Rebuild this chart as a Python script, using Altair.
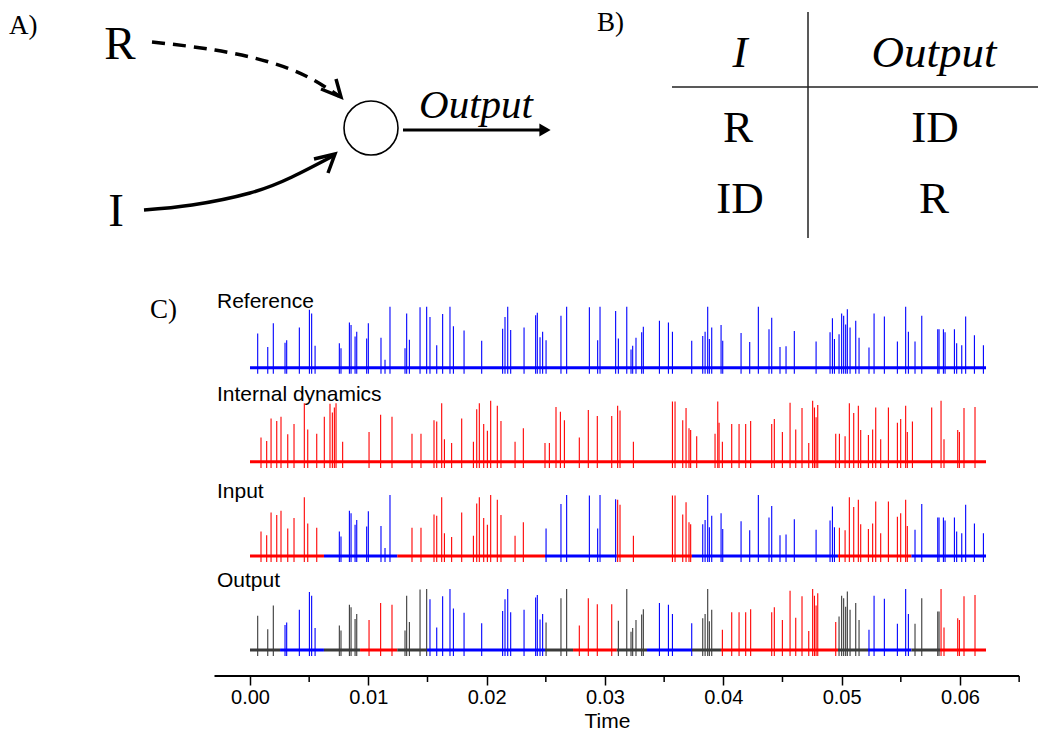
import altair as alt
import pandas as pd

# ---------------- values ----------------
# Reference trace: spike times (ms) and relative spike heights (1 = tallest)
REF_SPIKE_MS = [
    0.65, 1.50, 1.97, 2.96, 3.10, 4.17, 5.02, 5.21, 5.50, 7.55,
    7.69, 8.40, 8.54, 8.88, 9.02, 9.86, 10.00, 11.07, 11.41, 11.83,
    13.10, 13.24, 13.47, 14.37, 14.93, 15.21, 15.78, 16.28, 16.90, 17.19,
    18.09, 19.58, 21.35, 21.55, 21.78, 22.03, 23.16, 24.14, 24.28, 24.51,
    24.73, 25.02, 26.28, 26.76, 28.68, 29.38, 29.58, 30.90, 31.13, 31.84,
    32.20, 32.34, 32.62, 33.10, 33.24, 34.60, 35.36, 35.70, 37.33, 38.26,
    38.46, 38.68, 38.82, 39.02, 39.81, 39.95, 41.50, 42.23, 42.96, 43.86,
    44.09, 44.79, 45.30, 46.00, 47.84, 49.02, 49.22, 49.39, 49.78, 50.00,
    50.17, 50.34, 50.48, 50.71, 51.19, 51.47, 52.31, 52.74, 53.61, 54.71,
    55.41, 55.64, 56.20, 56.77, 58.12, 58.23, 58.60, 58.74, 59.53, 59.72,
    60.15, 60.48, 61.22, 61.98,
]
REF_SPIKE_AMP = [
    0.56, 0.34, 0.73, 0.41, 0.45, 0.66, 0.95, 0.89, 0.36, 0.40,
    0.32, 0.74, 0.70, 0.51, 0.59, 0.48, 0.73, 0.49, 0.13, 1.00,
    0.32, 0.89, 0.46, 0.99, 1.00, 0.83, 0.37, 0.88, 1.00, 0.68,
    0.61, 0.44, 0.64, 0.83, 1.00, 0.62, 0.66, 0.86, 0.90, 0.50,
    0.59, 0.45, 0.85, 1.00, 0.99, 0.45, 1.00, 0.93, 0.48, 1.00,
    0.30, 0.36, 0.49, 0.58, 0.67, 0.77, 0.74, 0.59, 0.44, 0.52,
    0.59, 1.00, 0.47, 0.66, 0.70, 0.44, 0.57, 0.42, 1.00, 0.63,
    0.82, 0.34, 0.35, 0.60, 0.43, 0.58, 0.81, 0.47, 0.55, 0.89,
    0.85, 0.71, 0.96, 0.66, 0.77, 0.49, 0.33, 0.89, 0.84, 0.43,
    1.00, 0.59, 0.43, 0.85, 0.63, 0.63, 0.63, 0.58, 0.63, 0.40,
    0.37, 0.84, 0.53, 0.37,
]
# Internal dynamics trace
ID_SPIKE_MS = [
    0.93, 1.41, 1.78, 2.26, 2.62, 3.19, 3.72, 4.59, 4.88, 5.64,
    6.28, 6.76, 6.96, 7.13, 7.27, 7.83, 10.06, 11.04, 12.00, 13.69,
    14.45, 15.55, 15.78, 16.20, 16.43, 17.04, 17.89, 18.88, 19.16, 19.38,
    19.75, 20.06, 20.34, 20.90, 21.21, 22.40, 23.10, 24.93, 25.30, 25.86,
    26.23, 26.57, 27.83, 28.59, 29.35, 30.57, 31.07, 31.27, 32.40, 35.70,
    35.92, 36.57, 36.85, 37.10, 37.24, 37.75, 39.30, 39.53, 39.64, 39.92,
    40.71, 41.33, 41.89, 42.31, 44.09, 44.31, 44.99, 45.64, 46.12, 46.65,
    47.22, 47.55, 47.70, 47.84, 47.98, 49.50, 49.81, 50.29, 50.65, 51.02,
    51.41, 51.61, 52.26, 52.62, 52.88, 53.30, 53.95, 54.71, 54.99, 55.41,
    55.55, 55.98, 57.61, 58.40, 58.65, 59.81, 59.95, 60.34, 61.27,
]
ID_SPIKE_AMP = [
    0.40, 0.34, 0.71, 0.67, 0.74, 0.45, 0.62, 0.96, 0.53, 0.46,
    0.74, 0.95, 0.81, 0.89, 0.96, 0.33, 0.49, 0.77, 0.74, 0.46,
    0.46, 0.68, 0.66, 0.96, 0.37, 0.31, 0.71, 0.33, 0.86, 0.96,
    0.62, 0.51, 1.00, 0.92, 0.67, 0.33, 0.55, 0.31, 0.31, 0.90,
    0.82, 0.68, 0.40, 0.85, 0.75, 0.75, 0.92, 0.84, 0.33, 0.99,
    0.99, 0.68, 0.88, 0.55, 0.52, 0.42, 0.46, 0.99, 0.64, 0.33,
    0.62, 0.62, 0.62, 0.67, 0.62, 0.70, 0.49, 0.97, 0.53, 0.88,
    0.31, 1.00, 0.89, 0.73, 0.93, 0.46, 0.46, 0.42, 0.96, 0.80,
    0.92, 0.52, 0.44, 0.53, 0.89, 0.37, 0.89, 0.64, 0.70, 0.92,
    0.49, 0.66, 0.89, 1.00, 0.37, 0.52, 0.49, 0.88, 0.90,
]
assert len(REF_SPIKE_MS) == len(REF_SPIKE_AMP)
assert len(ID_SPIKE_MS) == len(ID_SPIKE_AMP)

TRACE_LABELS = ["Reference", "Internal dynamics", "Input", "Output"]
TRACE_END_MS = 62.2
# Input alternates between internal dynamics (ID) and reference (R)
INPUT_BOUNDS_MS = [0.0, 6.25, 12.45, 24.93, 31.0, 37.35, 49.69, 55.9, 62.2]
INPUT_STATE = ["ID", "R", "ID", "R", "ID", "R", "ID", "R"]
# Output: T = transient (grey), R = reference (blue), ID = internal dynamics (red)
OUTPUT_BOUNDS_MS = [0.0, 2.54, 6.25, 9.3, 12.45, 14.96, 24.93, 27.3, 31.0,
                    33.55, 37.35, 39.8, 49.69, 52.23, 55.9, 58.31, 62.2]
OUTPUT_STATE = ["T", "R", "T", "ID", "T", "R", "T", "ID",
                "T", "R", "T", "ID", "T", "R", "T", "ID"]

TIME_TICKS = [0.00, 0.01, 0.02, 0.03, 0.04, 0.05, 0.06]
TIME_MINOR = [0.005, 0.015, 0.025, 0.035, 0.045, 0.055, 0.065]
AXIS_SPAN = [-0.003, 0.065]

PANEL_LABELS = ["A)", "B)", "C)"]
DIAGRAM_LETTERS = ["R", "I"]
TABLE_HEADER = ["I", "Output"]
TABLE_BODY = ["R", "ID", "ID", "R"]

# ---------------- layout (page pixels) ----------------
PAGE_MARGIN = 8
PLOT_W, PLOT_H = 1033, 668
AXIS_PAGE_Y = PAGE_MARGIN + PLOT_H
X0_PX, PX_PER_SEC = 250.0, 11833.0
AMP_PX = 61.0
ROW_GAP = 94.1 / AMP_PX
OUT_BASE_PAGE_Y = 650.0
ROWS = {"Reference": 3, "Internal dynamics": 2, "Input": 1, "Output": 0}

T_DOMAIN = [(PAGE_MARGIN - X0_PX) / PX_PER_SEC, (PAGE_MARGIN + PLOT_W - X0_PX) / PX_PER_SEC]
V_DOMAIN = [(OUT_BASE_PAGE_Y - AXIS_PAGE_Y) / AMP_PX, (OUT_BASE_PAGE_Y - PAGE_MARGIN) / AMP_PX]

SERIF = "Liberation Serif"
SANS = "Liberation Sans"


def state_at(t, bounds, states):
    for a, b, s in zip(bounds[:-1], bounds[1:], states):
        if a <= t < b:
            return s
    return states[-1]


ref = list(zip(REF_SPIKE_MS, REF_SPIKE_AMP))
idd = list(zip(ID_SPIKE_MS, ID_SPIKE_AMP))
rows = []
for t, a in ref:
    rows.append(("Reference", t, a, "R"))
for t, a in idd:
    rows.append(("Internal dynamics", t, a, "ID"))
for src, lst in (("R", ref), ("ID", idd)):
    for t, a in lst:
        if state_at(t, INPUT_BOUNDS_MS, INPUT_STATE) == src:
            rows.append(("Input", t, a, src))
for t, a in ref:
    s = state_at(t, OUTPUT_BOUNDS_MS, OUTPUT_STATE)
    if s in ("T", "R"):
        rows.append(("Output", t, a, s))
for t, a in idd:
    if state_at(t, OUTPUT_BOUNDS_MS, OUTPUT_STATE) == "ID":
        rows.append(("Output", t, a, "ID"))
spikes = pd.DataFrame(rows, columns=["trace", "ms", "amp", "state"])
spikes["t"] = spikes["ms"] / 1000.0
spikes["base"] = spikes["trace"].map(ROWS) * ROW_GAP
spikes["lo"] = spikes["base"] - 0.1
spikes["hi"] = spikes["base"] + spikes["amp"]

segs = [("Reference", 0.0, TRACE_END_MS, "R"), ("Internal dynamics", 0.0, TRACE_END_MS, "ID")]
for a, b, s in zip(INPUT_BOUNDS_MS[:-1], INPUT_BOUNDS_MS[1:], INPUT_STATE):
    segs.append(("Input", a, b, s))
for a, b, s in zip(OUTPUT_BOUNDS_MS[:-1], OUTPUT_BOUNDS_MS[1:], OUTPUT_STATE):
    segs.append(("Output", a, b, s))
base_df = pd.DataFrame(segs, columns=["trace", "ms0", "ms1", "state"])
base_df["t0"] = base_df["ms0"] / 1000.0
base_df["t1"] = base_df["ms1"] / 1000.0
base_df["v"] = base_df["trace"].map(ROWS) * ROW_GAP

color = alt.Color("state:N", legend=None,
                  scale=alt.Scale(domain=["R", "ID", "T"], range=["#0000ff", "#ff0000", "#3a3a3a"]))


def tx(field, axis=None):
    return alt.X(f"{field}:Q", scale=alt.Scale(domain=T_DOMAIN, nice=False, zero=False), axis=axis)


def ty(field):
    return alt.Y(f"{field}:Q", scale=alt.Scale(domain=V_DOMAIN, nice=False, zero=False), axis=None)


def cx(field="px"):
    return alt.X(f"{field}:Q", scale=alt.Scale(domain=[PAGE_MARGIN, PAGE_MARGIN + PLOT_W], nice=False, zero=False), axis=None)


def cy(field="py"):
    return alt.Y(f"{field}:Q", scale=alt.Scale(domain=[PAGE_MARGIN, AXIS_PAGE_Y], nice=False, zero=False, reverse=True), axis=None)


time_axis = alt.Axis(values=TIME_TICKS, format=".2f", orient="bottom", domain=False, grid=False,
                     tickSize=9, tickWidth=1.5, tickColor="black",
                     labelFont=SANS, labelFontSize=20, labelColor="black", labelPadding=2,
                     title="Time", titleFont=SANS, titleFontSize=21, titleFontWeight="normal",
                     titleColor="black", titlePadding=3, titleX=599)

baselines = alt.Chart(base_df).mark_rule(strokeWidth=3).encode(
    x=tx("t0"), x2="t1:Q", y=ty("v"), color=color)
spike_layer = alt.Chart(spikes).mark_rule(strokeWidth=1.1).encode(
    x=tx("t", time_axis), y=ty("lo"), y2="hi:Q", color=color)

axis_line = alt.Chart(pd.DataFrame({"t0": [AXIS_SPAN[0]], "t1": [AXIS_SPAN[1]], "v": [V_DOMAIN[0]]})).mark_rule(
    strokeWidth=2, color="black").encode(x=tx("t0"), x2="t1:Q", y=ty("v"))
minor_df = pd.DataFrame({"t": TIME_MINOR, "v0": [V_DOMAIN[0]] * len(TIME_MINOR),
                         "v1": [V_DOMAIN[0] - 6 / AMP_PX] * len(TIME_MINOR)})
minor_ticks = alt.Chart(minor_df).mark_rule(strokeWidth=1.5, color="black").encode(
    x=tx("t"), y=ty("v0"), y2="v1:Q")

# ---- canvas parts (diagram, table, labels) ----
panel_df = pd.DataFrame({"text": PANEL_LABELS, "px": [9, 597, 150], "py": [34, 31, 318]})
panel_text = alt.Chart(panel_df).mark_text(font=SERIF, fontSize=27, align="left", baseline="alphabetic",
                                           color="black").encode(x=cx(), y=cy(), text="text:N")

letters_df = pd.DataFrame({"text": DIAGRAM_LETTERS + TABLE_BODY,
                           "px": [120, 116, 738, 935, 740, 934],
                           "py": [59, 226, 142, 142, 213, 213],
                           "fs": [47, 47, 45, 45, 45, 45]})
letters = alt.Chart(letters_df).mark_text(font=SERIF, align="center", baseline="alphabetic",
                                          color="black").encode(x=cx(), y=cy(), text="text:N",
                                                                size=alt.Size("fs:Q", scale=None))

italic_df = pd.DataFrame({"text": ["Output"] + TABLE_HEADER,
                          "px": [476, 740, 934], "py": [118, 67, 67], "fs": [41, 45, 45]})
italics = alt.Chart(italic_df).mark_text(font=SERIF, fontStyle="italic", align="center", baseline="alphabetic",
                                         color="black").encode(x=cx(), y=cy(), text="text:N",
                                                               size=alt.Size("fs:Q", scale=None))

trace_lab_df = pd.DataFrame({"text": TRACE_LABELS, "px": [217] * 4, "py": [308, 401, 498, 587]})
trace_labels = alt.Chart(trace_lab_df).mark_text(font=SANS, fontSize=21, align="left", baseline="alphabetic",
                                                 color="black").encode(x=cx(), y=cy(), text="text:N")

dash_df = pd.DataFrame({"k": range(5), "px": [152, 215, 269, 308, 339], "py": [42, 50, 62, 77, 96]})
dashed = alt.Chart(dash_df).mark_line(color="black", strokeWidth=3.5, strokeDash=[13, 8],
                                      interpolate="natural").encode(x=cx(), y=cy(), order="k:Q")
solid_df = pd.DataFrame({"k": range(5), "px": [144, 192, 250, 292, 333], "py": [210, 205, 193, 177, 156]})
solid = alt.Chart(solid_df).mark_line(color="black", strokeWidth=3.5,
                                      interpolate="natural").encode(x=cx(), y=cy(), order="k:Q")
chev_df = pd.DataFrame({"head": ["a"] * 3 + ["b"] * 3, "k": [0, 1, 2] * 2,
                        "px": [336, 341, 321, 314, 335, 328], "py": [79, 97, 89, 159, 154, 173]})
chevrons = alt.Chart(chev_df).mark_line(color="black", strokeWidth=3.5).encode(
    x=cx(), y=cy(), detail="head:N", order="k:Q")

node = alt.Chart(pd.DataFrame({"px": [371], "py": [128]})).mark_point(
    shape="circle", size=2916, filled=False, color="black", strokeWidth=1.6, opacity=1).encode(x=cx(), y=cy())
out_line = alt.Chart(pd.DataFrame({"px": [403], "px2": [541], "py": [130]})).mark_rule(
    strokeWidth=3, color="black").encode(x=cx(), x2="px2:Q", y=cy())
out_head = alt.Chart(pd.DataFrame({"px": [545], "py": [130]})).mark_point(
    shape="triangle-right", size=170, filled=True, color="black", opacity=1).encode(x=cx(), y=cy())

table_df = pd.DataFrame({"px": [808, 672], "px2": [808, 1038], "py": [12, 87], "py2": [238, 87]})
table_lines = alt.Chart(table_df).mark_rule(strokeWidth=1.5, color="#222222").encode(
    x=cx(), x2="px2:Q", y=cy(), y2="py2:Q")

chart = alt.layer(
    spike_layer, baselines, axis_line, minor_ticks,
    panel_text, letters, italics, trace_labels,
    dashed, solid, chevrons, node, out_line, out_head, table_lines,
).resolve_scale(x="independent", y="independent").properties(
    width=PLOT_W, height=PLOT_H, padding=0, background="white"
).configure_view(stroke=None)

chart.save("out.html", embed_options={"renderer": "svg", "actions": False})
